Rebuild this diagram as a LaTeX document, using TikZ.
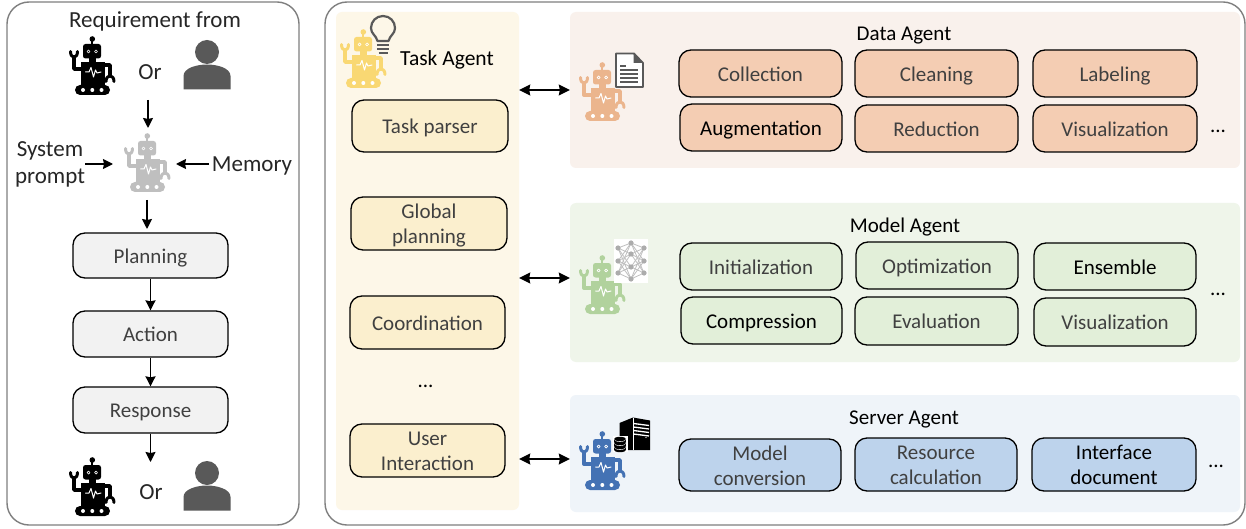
\documentclass[tikz,border=0pt]{standalone}
\usepackage{fontspec}
\setmainfont{Carlito}
\usetikzlibrary{arrows.meta}
\definecolor{txt}{HTML}{404040}
\definecolor{frameg}{HTML}{7F7F7F}
\definecolor{icong}{HTML}{595959}
\definecolor{taskbg}{HTML}{FDF7E8}
\definecolor{databg}{HTML}{F9F1EC}
\definecolor{modelbg}{HTML}{EFF5EA}
\definecolor{serverbg}{HTML}{EFF4F9}
\definecolor{graybox}{HTML}{F2F2F2}
\definecolor{taskbox}{HTML}{FBEFCE}
\definecolor{databox}{HTML}{F4CDB3}
\definecolor{modelbox}{HTML}{E2EFD9}
\definecolor{serverbox}{HTML}{BDD3EC}
\definecolor{taskbot}{HTML}{F9D873}
\definecolor{databot}{HTML}{EBB58D}
\definecolor{modelbot}{HTML}{B1D29D}
\definecolor{serverbot}{HTML}{4472B4}
\definecolor{graybot}{HTML}{BFBFBF}
\tikzset{
  x=1pt,y=-1pt,
  label text/.style={font=\fontsize{21}{25}\selectfont,text=txt,align=center,inner sep=0pt},
  dark text/.style={font=\fontsize{21}{25}\selectfont,text=black,align=center,inner sep=0pt},
  side text/.style={font=\fontsize{23}{27}\selectfont,text=black!85,align=center,inner sep=0pt},
  outer frame/.style={draw=frameg,line width=1.4pt,rounded corners=22pt,fill=white},
  panel/.style={rounded corners=6pt,draw=none},
  boxed/.style={draw=black,line width=1.3pt,rounded corners=12pt},
  flow/.style={draw=black,line width=1.5pt,-{Stealth[length=10pt,width=10pt,inset=1pt]}},
  both/.style={draw=black,line width=1.4pt,{Stealth[length=11pt,width=11pt,inset=1pt]}-{Stealth[length=11pt,width=11pt,inset=1pt]}},
}
% name, x1, y1, x2, y2, extra style, text
\newcommand{\bx}[7]{\node[inner sep=0pt,minimum width={(#4-#2)*1pt},minimum height={(#5-#3)*1pt},#6] (#1) at ({(#2+#4)/2},{(#3+#5)/2}) {\rule{0pt}{19pt}#7\vphantom{Ag}};}
\newcommand{\robotat}[3]{%
 \begin{scope}[shift={(#1,#2)},line cap=round,line join=round]
  \fill[#3] (23.3,3) circle (2.8);
  \draw[#3,line width=1.8pt] (23.3,3) -- (23.3,9);
  \fill[#3,rounded corners=2.5pt] (14,8) rectangle (32,22.5);
  \draw[white,line width=.7pt] (19.5,15.5) circle (1.5) (27,15.5) circle (1.5);
  \fill[#3] (20,22) rectangle (27,27);
  \fill[#3] (11.5,26) rectangle (36,49);
  \draw[white,line width=1pt] (16.5,36) -- (20,36) -- (22,31.5) -- (24.5,41) -- (26.5,34) -- (28,37) -- (32,36);
  \draw[#3,line width=3.4pt] (12,33) -- (5,33) -- (5,21);
  \draw[#3,line width=3pt] (1.5,15.5) .. controls (1.5,23) and (8.5,23) .. (8.5,15.5);
  \draw[#3,line width=3.4pt] (36,29) -- (41,29) -- (41,40);
  \draw[#3,line width=3pt] (37,45.5) .. controls (37,38) and (45,38) .. (45,45.5);
  \fill[#3,rounded corners=5pt] (6,49) rectangle (41,59);
  \fill[white] (14,54) circle (2) (23.3,54) circle (2) (32.5,54) circle (2);
 \end{scope}}
\newcommand{\personat}[2]{%
 \begin{scope}[shift={(#1,#2)}]
  \fill[icong] (0,0) circle (12);
  \fill[icong] (-23.5,37.5) -- (-23.5,24) .. controls (-23.5,16) and (-10,12.5) .. (0,12.5) .. controls (10,12.5) and (23.5,16) .. (23.5,24) -- (23.5,37.5) -- cycle;
 \end{scope}}
\begin{document}
\begin{tikzpicture}
\useasboundingbox (0,0) rectangle (1246,529);
% frames
\bx{leftframe}{7}{2}{299}{525}{outer frame}{}
\bx{rightframe}{325}{2}{1245}{525}{outer frame}{}
% panels
\bx{taskcol}{336}{12}{519}{510}{panel,fill=taskbg}{}
\bx{datapanel}{570}{12}{1240}{168}{panel,fill=databg}{}
\bx{modelpanel}{570}{203}{1240}{362}{panel,fill=modelbg}{}
\bx{serverpanel}{570}{395}{1240}{512}{panel,fill=serverbg}{}
% left column
\node[side text] (req) at (155,21) {Requirement from};
\robotat{69}{36}{black}
\node[side text] (or1) at (150,72) {Or};
\personat{207}{52}
\robotat{124}{133}{graybot}
\node[side text] (sys) at (50,164) {System\\prompt};
\node[side text] (mem) at (252,166) {Memory};
\coordinate (a1s) at (148,100); \coordinate (a1e) at (148,128);
\coordinate (a2s) at (85,164); \coordinate (a2e) at (113,164);
\coordinate (a3s) at (209,164); \coordinate (a3e) at (176,164);
\coordinate (a4s) at (147,200); \coordinate (a4e) at (147,229);
\draw[flow] (a1s) -- (a1e);
\draw[flow] (a2s) -- (a2e);
\draw[flow] (a3s) -- (a3e);
\draw[flow] (a4s) -- (a4e);
\bx{planning}{73}{233}{228}{278}{boxed,fill=graybox,label text}{Planning}
\bx{action}{73}{311}{228}{357}{boxed,fill=graybox,label text}{Action}
\bx{response}{73}{387}{228}{433}{boxed,fill=graybox,label text}{Response}
\draw[flow] (planning) -- (action);
\draw[flow] (action) -- (response);
\coordinate (a5e) at (150.5,462);
\draw[flow] (response) -- (a5e);
\robotat{69}{457}{black}
\node[side text] (or2) at (151,492) {Or};
\personat{207}{473}
% Task agent
\robotat{340}{29}{taskbot}
\draw[icong,line width=2.2pt,line join=round] (377.5,41) .. controls (376,35) and (371,34) .. (371,28) .. controls (371,21.5) and (376,16) .. (383,16) .. controls (390,16) and (395,21.5) .. (395,28) .. controls (395,34) and (390,35) .. (388.5,41) -- cycle;
\draw[icong,line width=2pt] (377,45) -- (389,45) (377,49) -- (389,49) (378.5,53) -- (387.5,53);
\node[dark text,font=\fontsize{21.5}{25}\selectfont] (tasktitle) at (447,60) {Task Agent};
\bx{parser}{352}{100}{508}{152}{boxed,fill=taskbox,label text}{Task parser}
\bx{global}{351}{197}{507}{250}{boxed,fill=taskbox,label text}{Global\\planning}
\bx{coord}{350}{296}{505}{349}{boxed,fill=taskbox,label text}{Coordination}
\node[dark text] (taskdots) at (425.5,386.5) {...};
\bx{user}{350}{424}{505}{477}{boxed,fill=taskbox,label text}{User\\Interaction}
% Data agent
\robotat{579}{62}{databot}
\draw[icong,fill=white,line width=1.8pt,line join=round] (616,53.5) -- (634,53.5) -- (643,63) -- (643,87) -- (616,87) -- cycle;
\fill[icong] (633.5,53.5) -- (643,63) -- (633.5,63) -- cycle;
\draw[icong,line width=1.1pt] (620,66) -- (626,66) (620,70) -- (638,70) (620,74) -- (638,74) (620,78) -- (638,78) (620,82) -- (638,82);
\node[dark text] (datatitle) at (904,36) {Data Agent};
\bx{d1}{679}{50}{842}{97}{boxed,fill=databox,label text}{Collection}
\bx{d2}{855}{50}{1018}{97}{boxed,fill=databox,label text}{Cleaning}
\bx{d3}{1033}{50}{1197}{97}{boxed,fill=databox,label text}{Labeling}
\bx{d4}{680}{104}{842}{151}{boxed,fill=databox,dark text}{Augmentation}
\bx{d5}{855}{105}{1018}{152}{boxed,fill=databox,label text}{Reduction}
\bx{d6}{1033}{105}{1197}{152}{boxed,fill=databox,label text}{Visualization}
\node[dark text] (datadots) at (1218,131) {...};
% Model agent
\robotat{579}{255}{modelbot}
\fill[white] (614,239) rectangle (648,283);
\begin{scope}
 \foreach \a/\ay in {618/248,618/261,618/273}{
  \foreach \b/\by in {631/243,631/254,631/267,631/279}{\draw[graybot,line width=.8pt] (\a,\ay) -- (\b,\by);}}
 \foreach \a/\ay in {644/248,644/261,644/273}{
  \foreach \b/\by in {631/243,631/254,631/267,631/279}{\draw[graybot,line width=.8pt] (\a,\ay) -- (\b,\by);}}
 \foreach \a/\ay in {618/248,618/261,618/273,631/243,631/254,631/267,631/279,644/248,644/261,644/273}{\fill[graybot!90!black] (\a,\ay) circle (2.6);}
\end{scope}
\node[dark text] (modeltitle) at (905,227) {Model Agent};
\bx{m1}{680}{243}{842}{290}{boxed,fill=modelbox,label text}{Initialization}
\bx{m2}{856}{242}{1018}{289}{boxed,fill=modelbox,label text}{Optimization}
\bx{m3}{1034}{243}{1196}{290}{boxed,fill=modelbox,dark text}{Ensemble}
\bx{m4}{681}{297}{842}{344}{boxed,fill=modelbox,dark text}{Compression}
\bx{m5}{855}{297}{1018}{345}{boxed,fill=modelbox,label text}{Evaluation}
\bx{m6}{1034}{298}{1196}{346}{boxed,fill=modelbox,label text}{Visualization}
\node[dark text] (modeldots) at (1218,294) {...};
% Server agent
\robotat{579}{431}{serverbot}
\fill[black] (619.5,423) -- (633,417.5) -- (650,420.5) -- (650,450) -- (619.5,450) -- cycle;
\draw[white,line width=1.3pt] (633.5,423.5) -- (649,425.5) (633.5,427) -- (649,429) (633.5,430.5) -- (649,432.5) (633.5,434) -- (649,436);
\fill[white] (646,437.5) circle (.7);
\draw[white,line width=.6pt] (633,418) -- (633,450);
\begin{scope}
 \fill[white] (612.5,436) rectangle (627.5,452);
 \foreach \yy in {449,445,441}{\fill[black] (614,\yy-2) rectangle (626,\yy+1); \fill[black] (620,\yy+1) ellipse (6 and 2.2); \fill[white] (620,\yy-2) ellipse (6.4 and 2.8); \fill[black] (620,\yy-2) ellipse (6 and 2.2);}
\end{scope}
\node[dark text] (servertitle) at (904,419) {Server Agent};
\bx{s1}{679}{439}{841}{491}{boxed,fill=serverbox,label text}{Model\\conversion}
\bx{s2}{855}{438}{1017}{491}{boxed,fill=serverbox,label text}{Resource\\calculation}
\bx{s3}{1032}{438}{1196}{491}{boxed,fill=serverbox,dark text}{Interface\\document}
\node[dark text] (serverdots) at (1216,466) {...};
% double arrows
\draw[both] (taskcol.east |- 0,90) -- (datapanel.west |- 0,90);
\draw[both] (taskcol.east |- 0,278) -- (modelpanel.west |- 0,278);
\draw[both] (taskcol.east |- 0,459) -- (serverpanel.west |- 0,459);
\end{tikzpicture}
\end{document}
